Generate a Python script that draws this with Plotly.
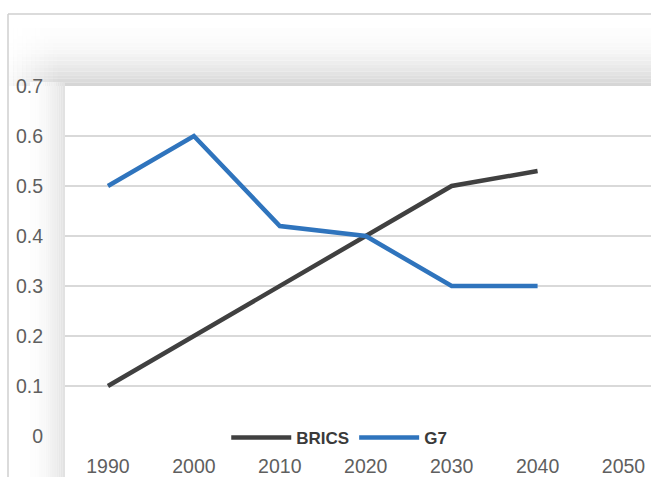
import plotly.graph_objects as go

years = ["1990", "2000", "2010", "2020", "2030", "2040", "2050"]
brics = [0.1, 0.2, 0.3, 0.4, 0.5, 0.53]
g7 = [0.5, 0.6, 0.42, 0.4, 0.3, 0.3]
y_ticks = [0, 0.1, 0.2, 0.3, 0.4, 0.5, 0.6, 0.7]
y_labels = ["0", "0.1", "0.2", "0.3", "0.4", "0.5", "0.6", "0.7"]

W, H = 651, 477
L, R, T, B = 65, 651, 86, 436


def px(x):
    return (x - L) / (R - L)


def py(y):
    return (B - y) / (B - T)


fig = go.Figure()
fig.add_trace(go.Scatter(x=years[:len(brics)], y=brics, name="BRICS", mode="lines",
                         line=dict(color="#404040", width=4.5)))
fig.add_trace(go.Scatter(x=years[:len(g7)], y=g7, name="G7", mode="lines",
                         line=dict(color="#2f74bd", width=4.5)))

shapes = []


def blend(a, b, t):
    return "rgb(%d,%d,%d)" % tuple(round(a[i] + (b[i] - a[i]) * t) for i in range(3))


white = (253, 253, 253)
n = 16
# top shadow band (fades upward)
for i in range(n):
    y0 = 28 + (T - 28) * i / n
    y1 = 28 + (T - 28) * (i + 1) / n
    t = (i / (n - 1)) ** 1.8
    shapes.append(dict(type="rect", xref="paper", yref="paper", x0=px(9), x1=px(W + 2),
                       y0=py(y1), y1=py(y0), line=dict(width=0),
                       fillcolor=blend(white, (214, 214, 214), t), layer="below"))
# soften the left end of the top band
m = 12
for i in range(m):
    x0 = 9 + (62 - 9) * i / m
    x1 = 9 + (62 - 9) * (i + 1) / m
    shapes.append(dict(type="rect", xref="paper", yref="paper", x0=px(x0), x1=px(x1),
                       y0=py(T), y1=py(27), line=dict(width=0),
                       fillcolor="white", opacity=max(0.0, 0.85 * (1 - i / (m - 1))),
                       layer="below"))
# left shadow band (fades leftward)
for i in range(n):
    x0 = 30 + (L - 30) * i / n
    x1 = 30 + (L - 30) * (i + 1) / n
    t = (i / (n - 1)) ** 1.8
    shapes.append(dict(type="rect", xref="paper", yref="paper", x0=px(x0), x1=px(x1),
                       y0=py(H + 2), y1=py(T - 4), line=dict(width=0),
                       fillcolor=blend(white, (226, 226, 226), t), layer="below"))
# frame
shapes.append(dict(type="line", xref="paper", yref="paper", x0=px(8), x1=px(W + 2),
                   y0=py(14), y1=py(14), line=dict(color="#cfcfcf", width=1.5)))
shapes.append(dict(type="line", xref="paper", yref="paper", x0=px(8), x1=px(8),
                   y0=py(14), y1=py(H + 2), line=dict(color="#cfcfcf", width=1.5)))

font_tick = "Liberation Sans, Arial, sans-serif"

fig.update_layout(
    width=W, height=H,
    margin=dict(l=L, r=W - R, t=T, b=H - B, pad=0),
    paper_bgcolor="white", plot_bgcolor="white",
    shapes=shapes,
    showlegend=True,
    legend=dict(orientation="h", x=0.468, xanchor="center", y=py(438), yanchor="middle",
                bgcolor="rgba(0,0,0,0)",
                font=dict(family=font_tick, size=17, color="#3a3a3a", weight="bold"),
                itemwidth=60, tracegroupgap=0),
    xaxis=dict(type="category", categoryorder="array", categoryarray=years,
               range=[-0.5, 6.32], showgrid=False, zeroline=False, showline=False,
               ticks="", tickfont=dict(family=font_tick, size=19.5, color="#5f5f5f"),
               ticklabelstandoff=16),
    yaxis=dict(range=[0, 0.7], tickvals=y_ticks, ticktext=y_labels, showgrid=True,
               gridcolor="#d9d9d9", gridwidth=1.5, zeroline=False, showline=False, ticks="",
               tickfont=dict(family=font_tick, size=19.5, color="#5f5f5f"),
               ticklabelstandoff=21),
)

fig.write_html("out.html", config={"displayModeBar": False},
               post_script="document.body.style.margin='0';document.body.style.overflow='hidden';")
